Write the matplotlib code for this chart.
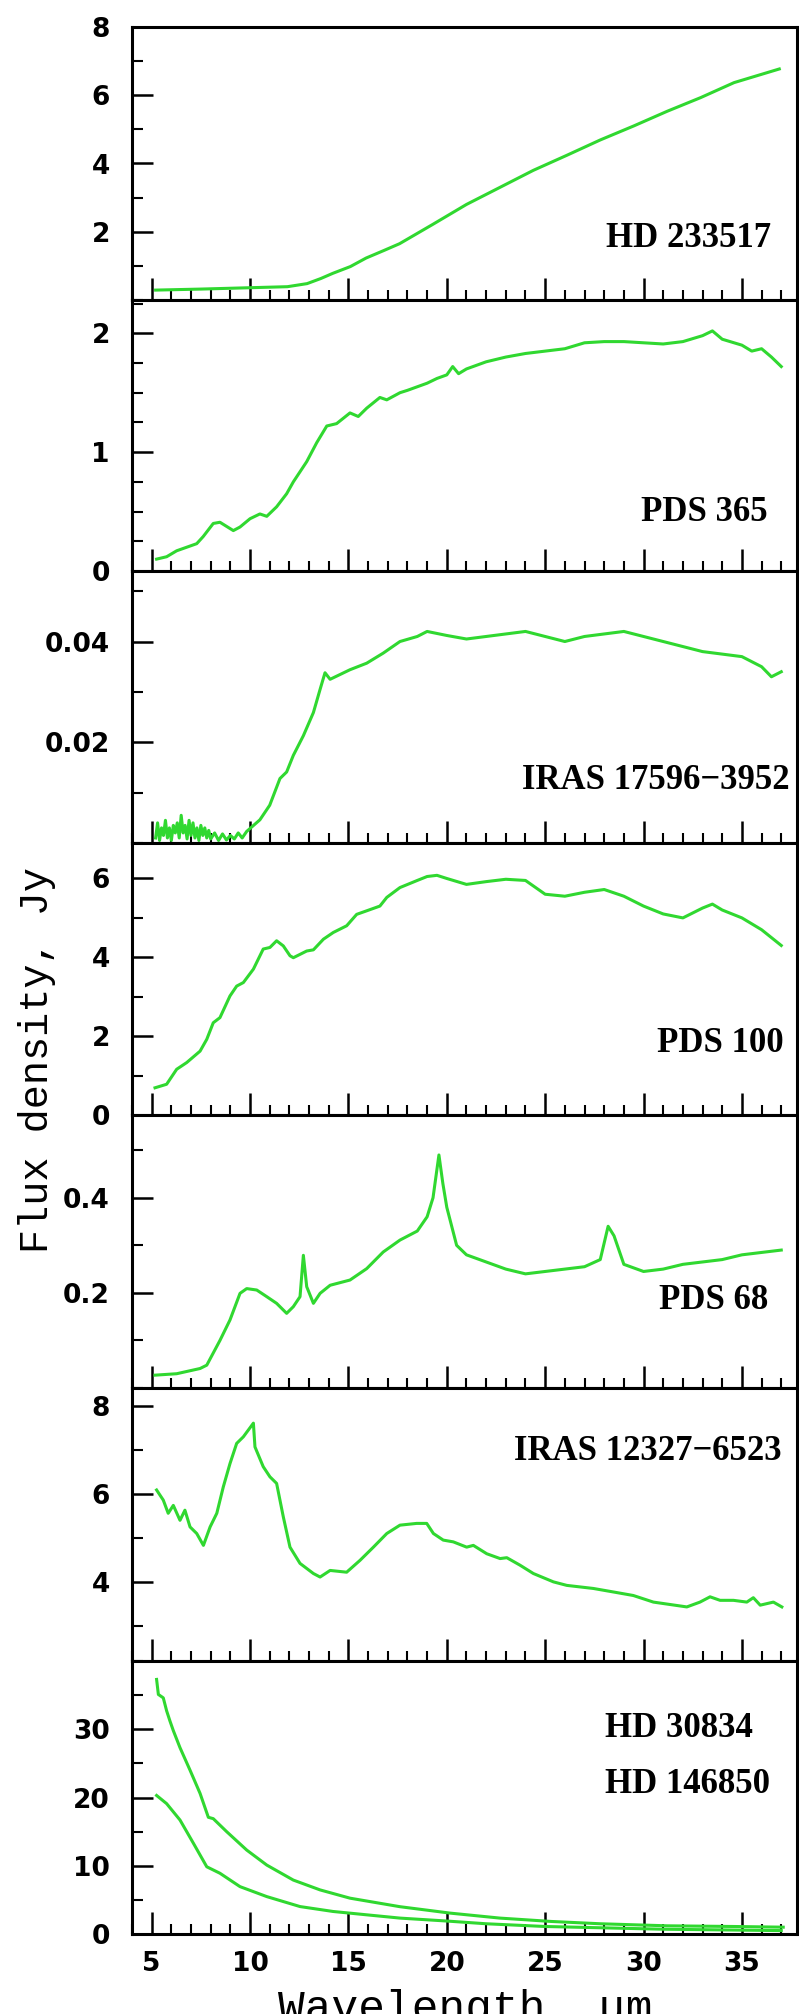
import matplotlib
matplotlib.use("Agg")
import matplotlib.pyplot as plt
from matplotlib.ticker import MultipleLocator, FixedLocator, FormatStrFormatter

# ---------------- data ----------------
wl_hd233517 = [5.2, 7.5, 10.0, 11.9, 12.9, 13.6, 14.2, 15.1, 15.9, 16.8, 17.6,
               19.3, 21.0, 22.7, 24.4, 26.1, 27.8, 29.5, 31.2, 32.9, 34.6, 36.9]
fx_hd233517 = [0.29, 0.32, 0.36, 0.39, 0.48, 0.63, 0.78, 0.98, 1.23, 1.45, 1.65,
               2.22, 2.80, 3.30, 3.80, 4.24, 4.69, 5.10, 5.53, 5.93, 6.37, 6.77]

wl_pds365 = [5.25, 5.76, 6.27, 6.78, 7.29, 7.62, 8.13, 8.47, 9.15, 9.49, 10.0, 10.5,
             10.85, 11.35, 11.86, 12.2, 12.88, 13.39, 13.9, 14.4, 15.08, 15.5, 15.93,
             16.6, 16.95, 17.62, 18.0, 18.5, 19.0, 19.5, 20.0, 20.3, 20.6, 21.0, 22.0,
             23.0, 24.0, 25.0, 26.0, 27.0, 28.0, 29.0, 30.0, 31.0, 32.0, 33.0, 33.5,
             34.0, 35.0, 35.5, 36.0, 36.5, 37.0]
fx_pds365 = [0.10, 0.12, 0.17, 0.20, 0.23, 0.29, 0.40, 0.41, 0.34, 0.37, 0.44, 0.48,
             0.46, 0.54, 0.65, 0.75, 0.92, 1.08, 1.22, 1.24, 1.33, 1.30, 1.37,
             1.46, 1.44, 1.50, 1.52, 1.55, 1.58, 1.62, 1.65, 1.72, 1.66, 1.70, 1.76,
             1.80, 1.83, 1.85, 1.87, 1.92, 1.93, 1.93, 1.92, 1.91, 1.93, 1.98, 2.02,
             1.95, 1.90, 1.85, 1.87, 1.80, 1.72]

wl_iras17596 = [5.2, 5.3, 5.4, 5.5, 5.6, 5.7, 5.8, 5.9, 6.0, 6.1, 6.2, 6.3, 6.4, 6.5,
                6.6, 6.7, 6.8, 6.9, 7.0, 7.1, 7.2, 7.3, 7.4, 7.5, 7.6, 7.7, 7.8, 7.9,
                8.0, 8.2, 8.4, 8.6, 8.8, 9.0, 9.2, 9.4, 9.6, 9.83, 10.5, 11.0, 11.52,
                11.86, 12.2, 12.71, 13.22, 13.56, 13.81, 14.07, 15.08, 15.93, 16.77,
                17.62, 18.5, 19.0, 20.0, 21.0, 22.0, 23.0, 24.0, 25.0, 26.0, 27.0, 28.0,
                29.0, 30.0, 31.0, 32.0, 33.0, 34.0, 35.0, 36.0, 36.5, 37.0]
fx_iras17596 = [0.001, 0.004, 0.0005, 0.003, 0.0015, 0.0045, 0.001, 0.003, 0.0005,
                0.0035, 0.002, 0.004, 0.001, 0.0055, 0.002, 0.0035, 0.0008, 0.0045,
                0.0015, 0.004, 0.001, 0.003, 0.0005, 0.0035, 0.0015, 0.003, 0.001,
                0.0025, 0.0008, 0.002, 0.0005, 0.0018, 0.0006, 0.0015, 0.0008, 0.002,
                0.001, 0.0023, 0.0046, 0.0075, 0.0128, 0.0141, 0.0174, 0.0213, 0.0259,
                0.0305, 0.0338, 0.0325, 0.0344, 0.0357, 0.0377, 0.0400, 0.0410, 0.0420,
                0.0412, 0.0405, 0.0410, 0.0415, 0.0420, 0.0410, 0.0400, 0.0410, 0.0415,
                0.0420, 0.0410, 0.0400, 0.0390, 0.0380, 0.0375, 0.0370, 0.0350, 0.0330,
                0.0340]

wl_pds100 = [5.17, 5.76, 6.27, 6.78, 7.46, 7.80, 8.13, 8.47, 8.98, 9.32, 9.66, 10.17,
             10.67, 11.01, 11.35, 11.69, 12.03, 12.2, 12.88, 13.22, 13.73, 14.23,
             14.91, 15.42, 15.93, 16.6, 16.95, 17.62, 18.5, 19.0, 19.5, 20.0, 21.0,
             22.0, 23.0, 24.0, 25.0, 26.0, 27.0, 28.0, 29.0, 30.0, 31.0, 32.0, 33.0,
             33.5, 34.0, 35.0, 36.0, 37.0]
fx_pds100 = [0.69, 0.78, 1.16, 1.33, 1.62, 1.92, 2.34, 2.47, 3.02, 3.27, 3.36, 3.70,
             4.21, 4.25, 4.42, 4.29, 4.04, 3.99, 4.16, 4.19, 4.46, 4.63,
             4.80, 5.09, 5.18, 5.30, 5.52, 5.77, 5.95, 6.05, 6.08, 6.00, 5.85,
             5.92, 5.98, 5.95, 5.60, 5.55, 5.65, 5.72, 5.55, 5.30, 5.10, 5.00, 5.25,
             5.35, 5.20, 5.00, 4.70, 4.30]

wl_pds68 = [5.17, 6.27, 7.46, 7.80, 8.47, 8.98, 9.49, 9.83, 10.34, 10.85, 11.35, 11.86,
            12.2, 12.54, 12.71, 12.88, 13.22, 13.56, 14.07, 15.08, 15.93, 16.77, 17.62,
            18.5, 19.0, 19.3, 19.6, 19.8, 20.0, 20.5, 21.0, 22.0, 23.0, 24.0, 25.0,
            26.0, 27.0, 27.8, 28.2, 28.5, 29.0, 30.0, 31.0, 32.0, 33.0, 34.0, 35.0,
            36.0, 37.0]
fx_pds68 = [0.027, 0.030, 0.041, 0.048, 0.100, 0.143, 0.199, 0.209, 0.206, 0.192, 0.178,
            0.157, 0.171, 0.192, 0.279, 0.213, 0.178, 0.199, 0.216, 0.227, 0.251, 0.286,
            0.311, 0.330, 0.360, 0.400, 0.490, 0.430, 0.380, 0.300, 0.280, 0.265, 0.250,
            0.240, 0.245, 0.250, 0.255, 0.270, 0.340, 0.320, 0.260, 0.245, 0.250, 0.260,
            0.265, 0.270, 0.280, 0.285, 0.290]

wl_iras12327 = [5.25, 5.59, 5.84, 6.1, 6.44, 6.69, 6.95, 7.29, 7.63, 7.97, 8.31, 8.64,
                8.98, 9.32, 9.66, 10.17, 10.25, 10.67, 11.01, 11.35, 11.69, 12.03,
                12.54, 13.22, 13.56, 14.07, 14.91, 15.59, 16.27, 16.95, 17.62, 18.47,
                18.98, 19.32, 19.82, 20.33, 21.01, 21.35, 22.03, 22.71, 23.05, 23.72,
                24.40, 25.42, 26.10, 27.45, 28.47, 29.48, 30.50, 32.20, 32.87, 33.38,
                33.89, 34.57, 35.25, 35.58, 35.93, 36.6, 37.03]
fx_iras12327 = [6.09, 5.86, 5.56, 5.74, 5.40, 5.63, 5.25, 5.10, 4.83, 5.25, 5.56, 6.16,
                6.69, 7.15, 7.30, 7.61, 7.07, 6.62, 6.39, 6.24, 5.48, 4.79,
                4.42, 4.19, 4.11, 4.26, 4.22, 4.49, 4.79, 5.10, 5.29, 5.33,
                5.33, 5.10, 4.95, 4.91, 4.79, 4.83, 4.64, 4.53, 4.55, 4.38,
                4.19, 4.00, 3.92, 3.85, 3.77, 3.69, 3.54, 3.43, 3.54, 3.66,
                3.58, 3.58, 3.54, 3.64, 3.47, 3.54, 3.43]

wl_hd30834 = [5.25, 5.34, 5.59, 5.76, 5.93, 6.1, 6.44, 6.95, 7.46, 7.88, 8.13, 8.81,
              9.83, 10.85, 12.2, 13.56, 15.08, 17.62, 20.17, 22.7, 25.3, 27.8, 31.2,
              34.6, 37.1]
fx_hd30834 = [37.3, 35.1, 34.6, 32.7, 31.2, 29.8, 27.3, 24.0, 20.6, 17.1, 16.9, 15.0,
              12.3, 10.1, 7.9, 6.46, 5.25, 4.0, 3.06, 2.33, 1.84, 1.5, 1.2,
              1.1, 1.0]

wl_hd146850 = [5.25, 5.76, 6.44, 7.12, 7.8, 8.47, 9.49, 10.85, 12.54, 14.22, 15.93,
               17.62, 20.0, 22.0, 25.0, 28.0, 31.0, 34.0, 37.0]
fx_hd146850 = [20.3, 19.1, 16.7, 13.3, 9.85, 8.9, 6.94, 5.48, 4.02, 3.3, 2.81,
               2.33, 1.9, 1.5, 1.1, 0.9, 0.7, 0.6, 0.5]

x_ticks = [5, 10, 15, 20, 25, 30, 35]

# ---------------- figure ----------------
W, H = 799, 2014
fig = plt.figure(figsize=(W / 100, H / 100), dpi=100)
GREEN = "#30d830"

edges = [27, 300, 571, 843, 1115, 1388, 1661, 1934]
left_px, right_px = 132, 797

panels = [
    dict(series=[(wl_hd233517, fx_hd233517)], ylim=(0, 8), yt=[2, 4, 6, 8], ym=1,
         fmt="%d", labels=[("HD 233517", 771, 247, "right")]),
    dict(series=[(wl_pds365, fx_pds365)], ylim=(0, 2.28), yt=[0, 1, 2], ym=0.25,
         fmt="%d", labels=[("PDS 365", 768, 521, "right")]),
    dict(series=[(wl_iras17596, fx_iras17596)], ylim=(0, 0.054), yt=[0.02, 0.04], ym=0.01,
         fmt="%.2f", labels=[("IRAS 17596\u22123952", 790, 789, "right")]),
    dict(series=[(wl_pds100, fx_pds100)], ylim=(0, 6.9), yt=[0, 2, 4, 6], ym=1,
         fmt="%d", labels=[("PDS 100", 784, 1052, "right")]),
    dict(series=[(wl_pds68, fx_pds68)], ylim=(0, 0.574), yt=[0.2, 0.4], ym=0.1,
         fmt="%.1f", labels=[("PDS 68", 768, 1309, "right")]),
    dict(series=[(wl_iras12327, fx_iras12327)], ylim=(2.2, 8.41), yt=[4, 6, 8], ym=1,
         fmt="%d", labels=[("IRAS 12327\u22126523", 782, 1460, "right")]),
    dict(series=[(wl_hd30834, fx_hd30834), (wl_hd146850, fx_hd146850)], ylim=(0, 40),
         yt=[0, 10, 20, 30], ym=5, fmt="%d",
         labels=[("HD 30834", 605, 1737, "left"), ("HD 146850", 605, 1793, "left")]),
]

for i, p in enumerate(panels):
    top, bot = edges[i], edges[i + 1]
    ax = fig.add_axes([left_px / W, 1 - bot / H, (right_px - left_px) / W, (bot - top) / H])
    for wl, fx in p["series"]:
        ax.plot(wl, fx, color=GREEN, lw=2.2, solid_joinstyle="round", zorder=2)
    ax.set_xlim(4, 37.8)
    ax.set_ylim(*p["ylim"])
    ax.xaxis.set_major_locator(FixedLocator(x_ticks))
    ax.xaxis.set_minor_locator(MultipleLocator(1))
    ax.yaxis.set_major_locator(FixedLocator(p["yt"]))
    ax.yaxis.set_minor_locator(MultipleLocator(p["ym"]))
    ax.yaxis.set_major_formatter(FormatStrFormatter(p["fmt"]))
    for s in ax.spines.values():
        s.set_linewidth(2.2)
        s.set_zorder(3)
    ax.tick_params(axis="x", which="major", direction="in", length=16, width=1.8,
                   top=False, pad=12)
    ax.tick_params(axis="x", which="minor", direction="in", length=7, width=1.5, top=False)
    ax.tick_params(axis="y", which="major", direction="in", length=15, width=1.8,
                   right=False, pad=16)
    ax.tick_params(axis="y", which="minor", direction="in", length=8, width=1.5, right=False)
    for lab in ax.get_yticklabels():
        lab.set_fontfamily("DejaVu Sans")
        lab.set_fontweight("bold")
        lab.set_fontsize(19)
    if i < len(panels) - 1:
        ax.set_xticklabels([])
    else:
        for lab in ax.get_xticklabels():
            lab.set_fontfamily("DejaVu Sans")
            lab.set_fontweight("bold")
            lab.set_fontsize(19)
    for txt, xp, yp, ha in p["labels"]:
        fig.text(xp / W, 1 - yp / H, txt, ha=ha, va="baseline",
                 family="Liberation Serif", weight="bold", fontsize=25)

fig.text(37 / W, 1 - 1060 / H, "Flux density, Jy", rotation=90, ha="center", va="center",
         family="Liberation Mono", fontsize=29)
fig.text(465 / W, 1 - 2021 / H, "Wavelength, \u03bcm", ha="center", va="baseline",
         family="Liberation Mono", fontsize=32)

fig.savefig("out.png", dpi=100)
